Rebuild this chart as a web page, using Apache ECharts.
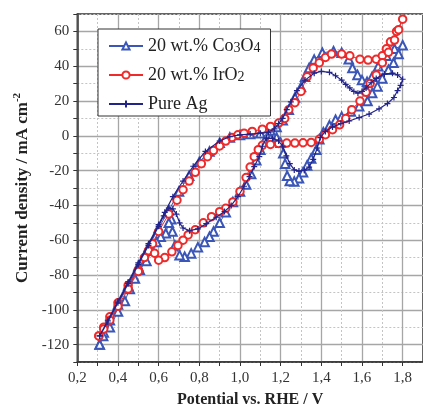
<!DOCTYPE html>
<html>
<head>
<meta charset="utf-8">
<script src="https://cdn.jsdelivr.net/npm/echarts@6/dist/echarts.min.js"></script>
<style>
html,body{margin:0;padding:0;background:#fff;}
#chart{width:423px;height:415px;}
</style>
</head>
<body>
<div id="chart"></div>
<script>
// ---- Data (potential V vs. RHE, current density mA cm^-2) ----
const seriesNames = ['20 wt.% Co3O4', '20 wt.% IrO2', 'Pure Ag'];

const co3o4Data = [
  [0.31,-120],[0.33,-113],[0.36,-106],[0.40,-97],[0.45,-86],[0.50,-75],[0.55,-64],[0.60,-53],[0.65,-43],[0.70,-32],
  [0.75,-23],[0.80,-15],[0.85,-9],[0.90,-4],[0.95,-1],[1.00,0.5],[1.05,1],[1.10,1.5],[1.15,3],[1.18,5],
  [1.21,9],[1.24,15],[1.27,22],[1.30,28],[1.32,34],[1.34,39],[1.365,43.8],[1.405,47.7],[1.46,48.6],[1.50,47.7],
  [1.535,44],[1.553,39],[1.578,35],[1.60,32],[1.625,31],[1.65,34],[1.68,40],[1.72,46],[1.76,50],[1.80,52],
  [1.78,47],[1.755,42],[1.73,38],[1.70,33],[1.676,28.4],[1.65,24.6],[1.627,20],[1.586,17],[1.545,14],[1.50,11],
  [1.47,9.2],[1.44,6],[1.41,2],[1.39,-2],[1.375,-8],[1.35,-13],[1.33,-17],[1.31,-21],[1.29,-24.4],[1.267,-26.3],
  [1.245,-26],[1.232,-23],[1.222,-16],[1.213,-10],[1.20,-4],[1.18,-1],[1.15,-1.5],[1.12,-3],[1.10,-8],[1.08,-14],
  [1.055,-22],[1.03,-28],[1.00,-32],[0.965,-38],[0.93,-44],[0.90,-50],[0.87,-55],[0.85,-58],[0.826,-61],[0.793,-64],
  [0.76,-67.6],[0.728,-69.5],[0.703,-68.6],[0.68,-63],[0.668,-55],[0.662,-48],[0.65,-50],[0.635,-56],[0.61,-58],[0.59,-61],
  [0.57,-66],[0.54,-72],[0.507,-77],[0.483,-82],[0.458,-88],[0.434,-95],[0.40,-101],[0.36,-110],[0.327,-115],[0.31,-120]
];

const iro2Data = [
  [0.306,-115],[0.33,-110],[0.36,-104],[0.40,-96],[0.45,-86],[0.50,-77],[0.55,-66],[0.60,-55],[0.65,-45],[0.69,-37],
  [0.72,-31],[0.75,-26],[0.78,-21],[0.81,-16],[0.84,-12],[0.87,-8.5],[0.90,-5.8],[0.93,-3],[0.96,-1],[0.99,0.6],
  [1.02,1.5],[1.06,2.5],[1.11,3.8],[1.15,5.4],[1.19,7.3],[1.22,10],[1.24,15],[1.27,19],[1.30,25.5],[1.33,34],
  [1.36,39],[1.39,42],[1.42,45],[1.45,47],[1.50,47],[1.54,46],[1.59,44],[1.63,43.5],[1.67,44],[1.70,46],
  [1.72,50],[1.74,54],[1.77,60],[1.80,67],
  [1.78,61],[1.76,55],[1.73,48],[1.70,42],[1.67,35],[1.64,30],[1.62,25],[1.59,20],[1.55,15],[1.52,10],
  [1.49,6.3],[1.455,3.5],[1.42,0.6],[1.39,-2],[1.35,-3.8],[1.31,-4],[1.27,-4.2],[1.23,-4.2],[1.19,-4.4],[1.15,-5],
  [1.11,-5.5],[1.09,-8],[1.07,-12],[1.05,-18],[1.03,-24],[1.00,-32],[0.965,-38],[0.93,-41.7],[0.90,-43.6],[0.86,-46.5],
  [0.82,-50],[0.78,-54],[0.745,-57],[0.72,-60],[0.695,-63],[0.665,-66.7],[0.63,-70],[0.60,-71.5],[0.58,-67.5],[0.57,-62],
  [0.53,-70],[0.50,-78],[0.45,-88],[0.40,-98],[0.36,-106],[0.33,-111],[0.306,-115]
];

const agData = [
  [0.31,-115],[0.35,-106],[0.40,-95],[0.45,-84],[0.50,-73],[0.55,-62],[0.60,-51],[0.63,-44],[0.67,-35],[0.72,-26],
  [0.77,-17.5],[0.83,-9],[0.90,-3],[0.95,-0.5],[1.00,0.5],[1.05,1],[1.10,1.5],[1.14,2],[1.17,4],[1.19,7],
  [1.21,10],[1.23,15],[1.25,19.5],[1.28,26],[1.32,32],[1.365,36],[1.40,37],[1.44,36.5],[1.47,34.5],[1.50,32],
  [1.52,29.5],[1.54,27.5],[1.56,25.5],[1.58,24.5],[1.60,25.5],[1.62,27.5],[1.645,30.5],[1.67,33],[1.71,35.5],[1.75,36],
  [1.775,35],[1.80,32.5],
  [1.79,29],[1.775,26],[1.757,22],[1.725,18.5],[1.684,15.5],[1.635,12.5],[1.586,10.5],[1.537,8.5],[1.496,7],[1.455,5],
  [1.42,2.5],[1.395,-1],[1.38,-7],[1.36,-13.5],[1.34,-18],[1.316,-19.8],[1.29,-20.3],[1.267,-19.6],[1.245,-16],[1.228,-11.5],
  [1.21,-6],[1.19,-3],[1.16,-1.5],[1.13,-1.3],[1.11,-6],[1.095,-12],[1.07,-17.7],[1.047,-23.5],[1.02,-29],[0.99,-35],
  [0.957,-40],[0.924,-43.5],[0.883,-46.8],[0.834,-50.5],[0.793,-53.5],[0.752,-54.5],[0.72,-53],[0.703,-50],[0.687,-45],[0.67,-42],
  [0.65,-41.5],[0.625,-46],[0.60,-52],[0.55,-63],[0.50,-74],[0.45,-85],[0.40,-96],[0.35,-107],[0.31,-115]
];

// axis ranges
const xRange = [0.2, 1.9];
const yRange = [-130, 70];

// ---- Chart ----
const FONT = "'Liberation Serif', 'Times New Roman', serif";
const legendRich = {
  '20 wt.% Co3O4': '20 wt.% Co{sub|3}O{sub|4}',
  '20 wt.% IrO2': '20 wt.% IrO{sub|2}',
  'Pure Ag': 'Pure Ag'
};
const colCo = '#3a56b8';
const colIr = '#ee2a2a';
const colAg = '#22248a';

const chart = echarts.init(document.getElementById('chart'), null, {renderer: 'canvas'});

const xFmt = v => (Math.round(v * 10) % 2 === 0) ? v.toFixed(1).replace('.', ',') : '';
const yFmt = v => (Math.round(v) % 20 === 0) ? String(Math.round(v)) : '';

const gridPos = {left: 77.3, top: 14, width: 346.8, height: 348};

chart.setOption({
  animation: false,
  backgroundColor: '#fff',
  grid: Object.assign({show: true, borderColor: '#333', borderWidth: 1.5, backgroundColor: 'transparent'}, gridPos),
  legend: {
    orient: 'vertical',
    left: 98, top: 29,
    padding: [8, 10, 3, 10],
    itemGap: 11,
    itemWidth: 34, itemHeight: 9,
    backgroundColor: '#fff',
    borderColor: '#333', borderWidth: 1,
    data: seriesNames,
    formatter: n => legendRich[n],
    textStyle: {
      fontFamily: FONT, fontSize: 18, color: '#222', lineHeight: 18,
      rich: {
        sub: {fontFamily: FONT, fontSize: 14, color: '#222', verticalAlign: 'bottom', lineHeight: 12}
      }
    }
  },
  xAxis: [{
    type: 'value', min: xRange[0], max: xRange[1], interval: 0.1,
    position: 'bottom',
    name: 'Potential vs. RHE / V', nameLocation: 'middle', nameGap: 30,
    nameTextStyle: {fontFamily: FONT, fontWeight: 'bold', fontSize: 16, color: '#222'},
    axisLine: {show: true, onZero: false, lineStyle: {color: '#333', width: 1.5}},
    axisTick: {show: true, inside: false, length: 4, lineStyle: {color: '#333', width: 1}},
    axisLabel: {formatter: xFmt, fontFamily: FONT, fontSize: 15, color: '#333', margin: 9, showMaxLabel: false},
    splitLine: {show: true, lineStyle: {color: ['#a6a6a6', 'transparent'], width: 1.3, type: 'solid'}}
  }, {
    type: 'value', min: xRange[0], max: xRange[1], interval: 0.1,
    position: 'bottom',
    axisLine: {show: false}, axisTick: {show: false}, axisLabel: {show: false},
    splitLine: {show: true, lineStyle: {color: ['transparent', '#c4c4c4'], width: 1, type: [2, 2]}}
  }],
  yAxis: [{
    type: 'value', min: yRange[0], max: yRange[1], interval: 10,
    position: 'left',
    name: 'Current density / mA cm{sup|-2}', nameLocation: 'middle', nameGap: 44,
    nameTextStyle: {
      fontFamily: FONT, fontWeight: 'bold', fontSize: 17, color: '#222',
      rich: {sup: {fontFamily: FONT, fontWeight: 'bold', fontSize: 11, color: '#222', verticalAlign: 'top', lineHeight: 22}}
    },
    axisLine: {show: true, onZero: false, lineStyle: {color: '#333', width: 1.5}},
    axisTick: {show: true, inside: false, length: 4, lineStyle: {color: '#333', width: 1}},
    axisLabel: {formatter: yFmt, fontFamily: FONT, fontSize: 15, color: '#333', margin: 8},
    splitLine: {show: true, lineStyle: {color: ['transparent', '#a6a6a6'], width: 1.3, type: 'solid'}}
  }, {
    type: 'value', min: yRange[0], max: yRange[1], interval: 10,
    position: 'left',
    axisLine: {show: false}, axisTick: {show: false}, axisLabel: {show: false},
    splitLine: {show: true, lineStyle: {color: ['#c4c4c4', 'transparent'], width: 1, type: [2, 2]}}
  }],
  series: [{
    name: seriesNames[0], type: 'line', data: co3o4Data,
    xAxisIndex: 0, yAxisIndex: 0,
    symbol: 'emptyTriangle', symbolSize: 8.5, showAllSymbol: true,
    lineStyle: {color: colCo, width: 1},
    itemStyle: {color: colCo, borderColor: colCo, borderWidth: 1},
    z: 3
  }, {
    name: seriesNames[1], type: 'line', data: iro2Data,
    xAxisIndex: 0, yAxisIndex: 0,
    symbol: 'emptyCircle', symbolSize: 7.5, showAllSymbol: true,
    lineStyle: {color: colIr, width: 1},
    itemStyle: {color: colIr, borderColor: colIr, borderWidth: 1},
    z: 4
  }, {
    name: seriesNames[2], type: 'line', data: agData,
    xAxisIndex: 0, yAxisIndex: 0,
    symbol: 'path://M0,5L10,5M5,0L5,10', symbolSize: 6, showAllSymbol: true,
    lineStyle: {color: colAg, width: 1.2},
    itemStyle: {color: colAg, borderColor: colAg, borderWidth: 1.2},
    z: 5
  }]
});
</script>
</body>
</html>
